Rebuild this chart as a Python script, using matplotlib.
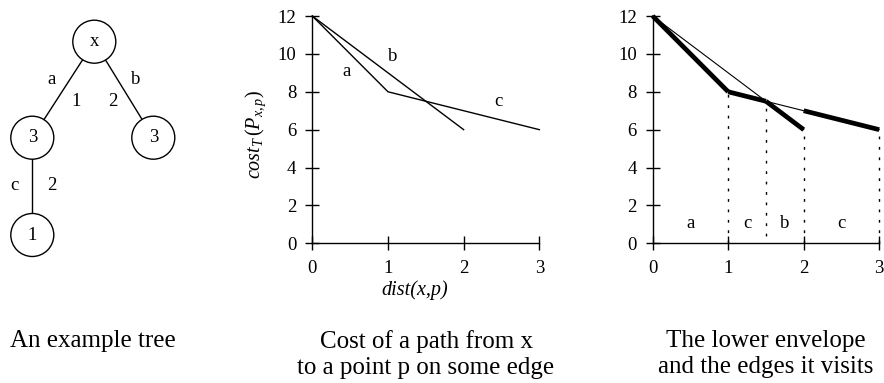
import numpy as np
import matplotlib
matplotlib.use("Agg")
import matplotlib.pyplot as plt
from matplotlib.patches import Circle

plt.rcParams['font.family'] = ['Liberation Serif', 'DejaVu Serif']
plt.rcParams['mathtext.fontset'] = 'custom'
plt.rcParams['mathtext.rm'] = 'Liberation Serif'
plt.rcParams['mathtext.it'] = 'Liberation Serif:italic'

# ----- data -----
# tree: node values and edges (parent, child, edge name, edge length)
node_labels = ["x", "3", "3", "1"]
edge_parent = [0, 0, 1]
edge_child = [1, 2, 3]
edge_names = ["a", "b", "c"]
edge_lengths = ["1", "2", "2"]

# cost of path as a function of dist(x,p)
path_ac_x = [0, 1, 3]
path_ac_y = [12, 8, 6]
path_b_x = [0, 2]
path_b_y = [12, 6]
path_names = ["a", "b", "c"]

# lower envelope: intervals and the edge visited in each
env_breaks = [0, 1, 1.5, 2, 3]
env_edges = ["a", "c", "b", "c"]
env_path = ["ac", "ac", "b", "ac"]

x_ticks = [0, 1, 2, 3]
y_ticks = [0, 2, 4, 6, 8, 10, 12]

captions = ["An example tree",
            "Cost of a path from x\nto a point p on some edge",
            "The lower envelope\nand the edges it visits"]

fig = plt.figure(figsize=(8.84, 3.83), dpi=100)

# ----- tree (drawn in pixel coordinates) -----
ax0 = fig.add_axes([0, 0, 1, 1])
ax0.set_xlim(0, 884)
ax0.set_ylim(383, 0)
ax0.axis('off')

node_xy = [(94.3, 41.7), (32.3, 137.7), (153.3, 137.7), (32.3, 235)]
name_xy = [(51.7, 80), (135.7, 80), (14, 185)]
len_xy = [(76, 101.7), (113.3, 101.7), (51.7, 185)]

for p, c in zip(edge_parent, edge_child):
    ax0.plot([node_xy[p][0], node_xy[c][0]], [node_xy[p][1], node_xy[c][1]],
             color='black', lw=1.0, zorder=1)
for (nx, ny), lab in zip(node_xy, node_labels):
    ax0.add_patch(Circle((nx, ny), 21.5, facecolor='white', edgecolor='black',
                         lw=1.0, zorder=2))
    ax0.text(nx, ny, lab, ha='center', va='center', fontsize=13.5, zorder=3)
for (tx, ty), lab in zip(name_xy, edge_names):
    ax0.text(tx, ty, lab, ha='center', va='center', fontsize=13.5)
for (tx, ty), lab in zip(len_xy, edge_lengths):
    ax0.text(tx, ty, lab, ha='center', va='center', fontsize=13.5)

caption_x = [93, 426, 766]
for cx, cap in zip(caption_x, captions):
    ax0.text(cx, 330, cap, ha='center', va='top', fontsize=18, linespacing=1.25)


def style_axes(ax):
    ax.set_xlim(0, 3)
    ax.set_ylim(0, 12)
    ax.set_xticks(x_ticks)
    ax.set_yticks(y_ticks)
    for s in ['top', 'right']:
        ax.spines[s].set_visible(False)
    for s in ['left', 'bottom']:
        ax.spines[s].set_linewidth(1.0)
    ax.tick_params(direction='inout', length=10, width=1.0, labelsize=13.5)
    ax.tick_params(axis='x', pad=7)
    ax.tick_params(axis='y', pad=6.5)
    ax.patch.set_visible(False)


# ----- middle chart -----
ax1 = fig.add_axes([0.3533, 0.3647, 0.2568, 0.5935])
style_axes(ax1)
ax1.plot(path_ac_x, path_ac_y, color='black', lw=1.0, clip_on=False)
ax1.plot(path_b_x, path_b_y, color='black', lw=1.0, clip_on=False)
lab_pos = [(0.455, 9.06), (1.06, 9.85), (2.46, 7.47)]
for (lx, ly), lab in zip(lab_pos, path_names):
    ax1.text(lx, ly, lab, ha='center', va='center', fontsize=13.5)
ax1.text(-0.247, 0.48, r'$cost_T\,(P_{x,p})$', transform=ax1.transAxes,
         rotation=90, ha='center', va='center', fontsize=14.5)
ax1.text(0.45, -0.205, 'dist(x,p)', transform=ax1.transAxes, style='italic',
         ha='center', va='center', fontsize=14.5)

# ----- right chart -----
ax2 = fig.add_axes([0.7383, 0.3647, 0.2563, 0.5935])
style_axes(ax2)
ax2.plot(path_ac_x, path_ac_y, color='black', lw=0.8, clip_on=False)
ax2.plot(path_b_x, path_b_y, color='black', lw=0.8, clip_on=False)

paths = {"ac": (path_ac_x, path_ac_y), "b": (path_b_x, path_b_y)}
for i, (edge, pth) in enumerate(zip(env_edges, env_path)):
    x0, x1 = env_breaks[i], env_breaks[i + 1]
    px, py = paths[pth]
    ys = np.interp([x0, x1], px, py)
    ax2.plot([x0, x1], ys, color='black', lw=3.4, solid_capstyle='butt',
             clip_on=False)
    ax2.text((x0 + x1) / 2, 1.05, edge, ha='center', va='center', fontsize=13.5)

# dotted drops from the envelope breakpoints
for xb in env_breaks[1:]:
    top = min(np.interp(xb, path_ac_x, path_ac_y),
              np.interp(xb, path_b_x, path_b_y) if xb <= path_b_x[-1] else 99)
    bottom = 0.4 if xb == 1.5 else 0
    ax2.plot([xb, xb], [bottom, top], color='black', lw=1.0, ls=(0, (2, 5.5)),
             clip_on=False)

fig.savefig("out.png", dpi=100)
